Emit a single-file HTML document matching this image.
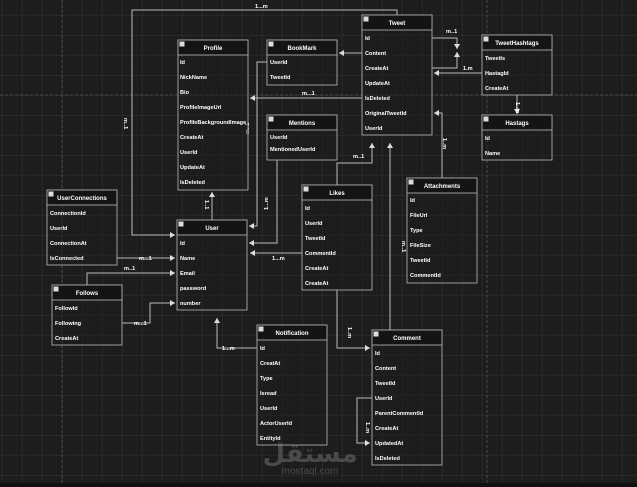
<!DOCTYPE html>
<html><head><style>
html,body{margin:0;padding:0;background:#1c1c1c;}
svg{display:block}
text{font-family:"Liberation Sans",sans-serif;font-weight:bold;font-size:5.6px;fill:#fff}
.h{text-anchor:middle;font-size:6px}
.l{fill:#eee;font-size:5.6px}
</style></head><body>
<svg width="637" height="487" viewBox="0 0 637 487" xmlns="http://www.w3.org/2000/svg">
<defs>
<pattern id="mi" x="2" y="0" width="5" height="5" patternUnits="userSpaceOnUse"><path d="M5 0V5M0 5H5" stroke="#242424" stroke-width="0.6" fill="none"/></pattern>
<pattern id="ma" x="2" y="15" width="20" height="20" patternUnits="userSpaceOnUse"><path d="M0 0V20M0 0H20" stroke="#3a3a3a" stroke-width="0.8" fill="none"/></pattern>
<marker id="a" markerWidth="6" markerHeight="6" refX="5" refY="3" orient="auto" markerUnits="userSpaceOnUse"><path d="M0 0L5 3L0 6z" fill="#ddd"/></marker>
</defs>
<rect width="637" height="487" fill="#1c1c1c"/>
<rect width="637" height="487" fill="url(#mi)"/>
<rect width="637" height="487" fill="url(#ma)"/>
<path d="M62 0V487M487 0V487M0 95H637" stroke="#555" stroke-width="0.8" stroke-dasharray="3,2"/>
<rect x="0" y="483" width="637" height="4" fill="#111"/>

<!-- watermark -->
<text x="310" y="462" style="font-size:26px;fill:#4a4a4a;text-anchor:middle;font-family:'DejaVu Sans',sans-serif">مستقل</text>
<text x="310" y="474" style="font-size:10px;fill:#4a4a4a;text-anchor:middle;font-weight:normal">mostaql.com</text>

<g stroke="#bbb" stroke-width="1" fill="none">
<path d="M397 15V10H132V235H175" marker-end="url(#a)"/>
<path d="M212 220V192" marker-end="url(#a)"/>
<path d="M267 62H257V226H249" marker-end="url(#a)"/>
<path d="M277 160V243H249" marker-end="url(#a)"/>
<path d="M362 53H339" marker-end="url(#a)"/>
<path d="M362 98H250" marker-end="url(#a)"/>
<path d="M432 38H457V49" marker-end="url(#a)"/>
<path d="M432 68H457V52" marker-end="url(#a)"/>
<path d="M482 73H434" marker-end="url(#a)"/>
<path d="M517 95V114" marker-end="url(#a)"/>
<path d="M442 178V113H434" marker-end="url(#a)"/>
<path d="M337 185V163H372V143" marker-end="url(#a)"/>
<path d="M390 330V143" marker-end="url(#a)"/>
<path d="M302 253H250" marker-end="url(#a)"/>
<path d="M337 290V348H370" marker-end="url(#a)"/>
<path d="M372 398H357V443H370" marker-end="url(#a)"/>
<path d="M117 258H175" marker-end="url(#a)"/>
<path d="M87 285V273H175" marker-end="url(#a)"/>
<path d="M122 323H150V303H175" marker-end="url(#a)"/>
<path d="M257 348H217V318" marker-end="url(#a)"/>
</g>
<g>
<text x="255" y="8">1...m</text>
<text x="124" y="118" transform="rotate(90 124 118)">m..1</text>
<text x="205" y="200" transform="rotate(90 205 200)">1..1</text>
<text x="250" y="125" transform="rotate(-90 254 130)">m..1</text>
<text x="272" y="202" transform="rotate(-90 274 208)">1...m</text>
<text x="302" y="95">m...1</text>
<text x="446" y="33">m..1</text>
<text x="463" y="70">1.m</text>
<text x="510" y="100" transform="rotate(90 512 104)">1..m</text>
<text x="436" y="135" transform="rotate(90 438 140)">1..m</text>
<text x="353" y="158">m..1</text>
<text x="393" y="240" transform="rotate(90 397 245)">m..1</text>
<text x="272" y="260">1...m</text>
<text x="340" y="325" transform="rotate(90 343 330)">1..m</text>
<text x="358" y="420" transform="rotate(90 361 425)">1..m</text>
<text x="139" y="260">m...1</text>
<text x="124" y="270">m..1</text>
<text x="134" y="325">m...1</text>
<text x="222" y="350">1...m</text>
</g>

<g id="tables" stroke="#aaa" stroke-width="0.9">
</g>
<g stroke="#aaa" stroke-width="0.9" fill="none">
<!-- Profile -->
<rect x="178" y="40" width="70" height="150" fill="#1c1c1c" fill-opacity="0.5"/><rect x="178" y="40" width="70" height="15" fill="#141414"/>
<rect x="267" y="40" width="70" height="45" fill="#1c1c1c" fill-opacity="0.5"/><rect x="267" y="40" width="70" height="15" fill="#141414"/>
<rect x="267" y="115" width="70" height="45" fill="#1c1c1c" fill-opacity="0.5"/><rect x="267" y="115" width="70" height="15" fill="#141414"/>
<rect x="362" y="15" width="70" height="120" fill="#1c1c1c" fill-opacity="0.5"/><rect x="362" y="15" width="70" height="15" fill="#141414"/>
<rect x="482" y="35" width="70" height="60" fill="#1c1c1c" fill-opacity="0.5"/><rect x="482" y="35" width="70" height="15" fill="#141414"/>
<rect x="482" y="115" width="70" height="45" fill="#1c1c1c" fill-opacity="0.5"/><rect x="482" y="115" width="70" height="15" fill="#141414"/>
<rect x="47" y="190" width="70" height="75" fill="#1c1c1c" fill-opacity="0.5"/><rect x="47" y="190" width="70" height="15" fill="#141414"/>
<rect x="177" y="220" width="70" height="90" fill="#1c1c1c" fill-opacity="0.5"/><rect x="177" y="220" width="70" height="15" fill="#141414"/>
<rect x="302" y="185" width="70" height="105" fill="#1c1c1c" fill-opacity="0.5"/><rect x="302" y="185" width="70" height="15" fill="#141414"/>
<rect x="407" y="178" width="70" height="105" fill="#1c1c1c" fill-opacity="0.5"/><rect x="407" y="178" width="70" height="15" fill="#141414"/>
<rect x="52" y="285" width="70" height="60" fill="#1c1c1c" fill-opacity="0.5"/><rect x="52" y="285" width="70" height="15" fill="#141414"/>
<rect x="257" y="325" width="70" height="120" fill="#1c1c1c" fill-opacity="0.5"/><rect x="257" y="325" width="70" height="15" fill="#141414"/>
<rect x="372" y="330" width="70" height="135" fill="#1c1c1c" fill-opacity="0.5"/><rect x="372" y="330" width="70" height="15" fill="#141414"/>
</g>
<g fill="#ddd">
<rect x="179.5" y="41.5" width="5" height="5"/><rect x="268.5" y="41.5" width="5" height="5"/><rect x="268.5" y="116.5" width="5" height="5"/><rect x="363.5" y="16.5" width="5" height="5"/><rect x="483.5" y="36.5" width="5" height="5"/><rect x="483.5" y="116.5" width="5" height="5"/><rect x="48.5" y="191.5" width="5" height="5"/><rect x="178.5" y="221.5" width="5" height="5"/><rect x="303.5" y="186.5" width="5" height="5"/><rect x="408.5" y="179.5" width="5" height="5"/><rect x="53.5" y="286.5" width="5" height="5"/><rect x="258.5" y="326.5" width="5" height="5"/><rect x="373.5" y="331.5" width="5" height="5"/>
</g>
<g>
<text class="h" x="213" y="50">Profile</text>
<text x="180" y="64">Id</text><text x="180" y="79">NickName</text><text x="180" y="94">Bio</text><text x="180" y="109">ProfileImageUrl</text><text x="180" y="124">ProfileBackgroundImage</text><text x="180" y="139">CreateAt</text><text x="180" y="154">UserId</text><text x="180" y="169">UpdateAt</text><text x="180" y="184">IsDeleted</text>
<text class="h" x="302" y="50">BookMark</text>
<text x="270" y="64">UserId</text><text x="270" y="79">TweetId</text>
<text class="h" x="302" y="125">Mentions</text>
<text x="270" y="139">UserId</text><text x="270" y="151">MentionedUserId</text>
<text class="h" x="397" y="25">Tweet</text>
<text x="365" y="40">Id</text><text x="365" y="55">Content</text><text x="365" y="70">CreateAt</text><text x="365" y="85">UpdateAt</text><text x="365" y="100">IsDeleted</text><text x="365" y="115">OriginalTweetId</text><text x="365" y="130">UserId</text>
<text class="h" x="517" y="45">TweetHashtags</text>
<text x="485" y="60">TweetIs</text><text x="485" y="75">HastagId</text><text x="485" y="90">CreateAt</text>
<text class="h" x="517" y="125">Hastags</text>
<text x="485" y="140">Id</text><text x="485" y="155">Name</text>
<text class="h" x="82" y="200">UserConnections</text>
<text x="50" y="215">ConnectionId</text><text x="50" y="230">UserId</text><text x="50" y="245">ConnectionAt</text><text x="50" y="260">IsConnected</text>
<text class="h" x="212" y="230">User</text>
<text x="180" y="245">Id</text><text x="180" y="260">Name</text><text x="180" y="275">Email</text><text x="180" y="290">password</text><text x="180" y="305">number</text>
<text class="h" x="337" y="195">Likes</text>
<text x="305" y="210">Id</text><text x="305" y="225">UserId</text><text x="305" y="240">TweetId</text><text x="305" y="255">CommentId</text><text x="305" y="270">CreateAt</text><text x="305" y="285">CreateAt</text>
<text class="h" x="442" y="188">Attachments</text>
<text x="410" y="202">Id</text><text x="410" y="217">FileUrl</text><text x="410" y="232">Type</text><text x="410" y="247">FileSize</text><text x="410" y="262">TweetId</text><text x="410" y="277">CommentId</text>
<text class="h" x="87" y="295">Follows</text>
<text x="55" y="310">FollowId</text><text x="55" y="325">Following</text><text x="55" y="340">CreateAt</text>
<text class="h" x="292" y="335">Notification</text>
<text x="260" y="350">Id</text><text x="260" y="365">CreatAt</text><text x="260" y="380">Type</text><text x="260" y="395">Isread</text><text x="260" y="410">UserId</text><text x="260" y="425">ActorUserId</text><text x="260" y="440">EntityId</text>
<text class="h" x="407" y="340">Comment</text>
<text x="375" y="355">Id</text><text x="375" y="370">Content</text><text x="375" y="385">TweetId</text><text x="375" y="400">UserId</text><text x="375" y="415">ParentCommentId</text><text x="375" y="430">CreateAt</text><text x="375" y="445">UpdatedAt</text><text x="375" y="460">IsDeleted</text>
</g>
</svg>
</body></html>
